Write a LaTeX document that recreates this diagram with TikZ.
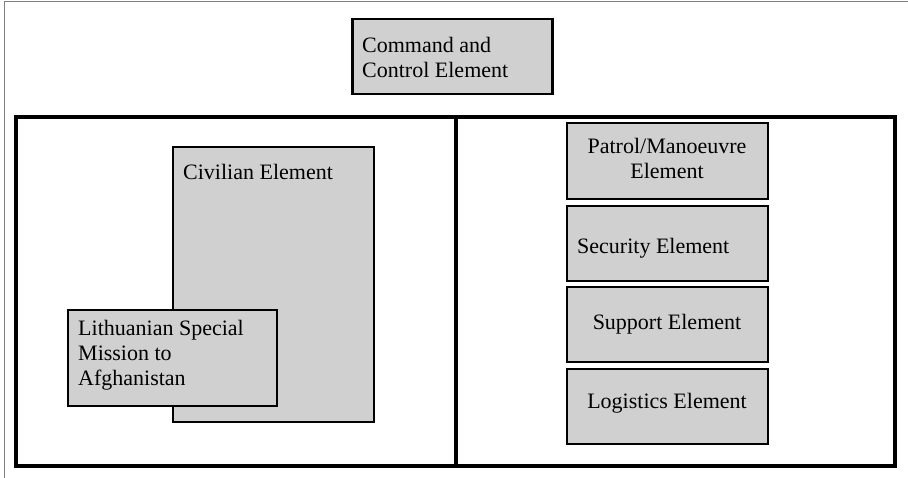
\documentclass[tikz,border=0pt]{standalone}
\usepackage{fontspec}
\setmainfont{Liberation Serif}
\definecolor{boxfill}{RGB}{208,208,208}
\definecolor{edgegray}{RGB}{128,128,128}
\tikzset{
  unit/.style={draw=black, line width=2.6pt, fill=boxfill, inner sep=0pt},
  panel/.style={draw=black, line width=3.4pt, inner sep=0pt},
  lbl/.style={inner sep=0pt, font=\fontsize{22}{25}\selectfont},
}
\begin{document}
\begin{tikzpicture}[x=1pt, y=-1pt]
  \useasboundingbox (0,0) rectangle (908,478);
  % thin page edge along top and left
  \draw[edgegray, line width=1pt] (4,478) -- (4,2) -- (908,2);

  % two panels
  \node[panel, minimum width=440pt, minimum height=349pt] (left) at (236,291.5) {};
  \node[panel, minimum width=439pt, minimum height=349pt] (right) at (675.5,291.5) {};

  % command and control (multi-line labels are placed by their last baseline)
  \node[unit, minimum width=200pt, minimum height=75pt] (cmd) at (452.5,56.5) {};
  \node[lbl, anchor=base west, align=left] (cmdt) at (362,78) {Command and\\Control Element};

  % civilian side
  \node[unit, minimum width=201pt, minimum height=275pt] (civ) at (273.5,284.5) {};
  \node[lbl, anchor=base west] (civt) at (183,180) {Civilian Element};
  \node[unit, minimum width=209pt, minimum height=96pt] (lit) at (172.5,358) {};
  \node[lbl, anchor=base west, align=left] (litt) at (78,385) {Lithuanian Special\\Mission to\\Afghanistan};

  % military elements
  \node[unit, minimum width=201pt, minimum height=76pt] (pat) at (667.5,161) {};
  \node[lbl, anchor=base, align=center] (patt) at (667,179) {Patrol/Manoeuvre\\Element};
  \node[unit, minimum width=201pt, minimum height=75pt] (sec) at (667.5,243.5) {};
  \node[lbl, anchor=base west] (sect) at (577,254) {Security Element};
  \node[unit, minimum width=201pt, minimum height=75pt] (sup) at (667.5,324.5) {};
  \node[lbl, anchor=base] (supt) at (667,330) {Support Element};
  \node[unit, minimum width=201pt, minimum height=75pt] (log) at (667.5,406.5) {};
  \node[lbl, anchor=base] (logt) at (667,409) {Logistics Element};
\end{tikzpicture}
\end{document}
